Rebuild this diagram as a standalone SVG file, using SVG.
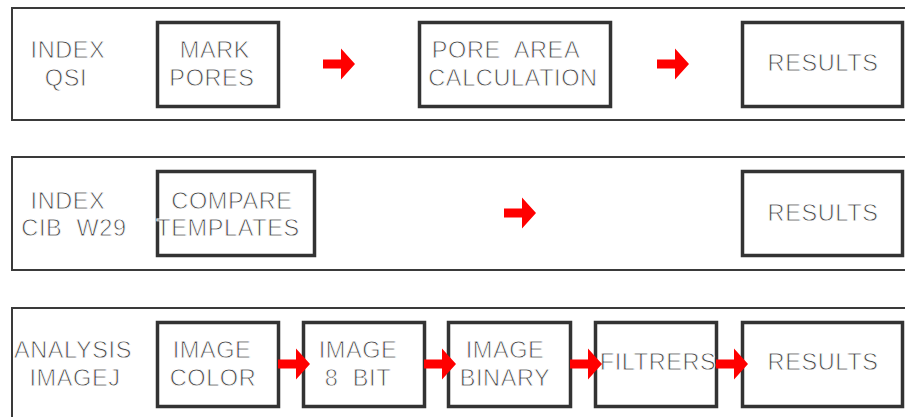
<svg xmlns="http://www.w3.org/2000/svg" xmlns:xlink="http://www.w3.org/1999/xlink" width="905" height="417" viewBox="0 0 905 417">
<defs>
<style>
.panel{fill:#fff;stroke:#3a3a3a;stroke-width:2}
.box{fill:#fff;stroke:#333;stroke-width:3.5}
.t{font-family:"Liberation Sans",Arial,sans-serif;font-size:23.5px;fill:#444;stroke:#fff;stroke-width:0.8px;text-anchor:middle;letter-spacing:0.6px}
.arrow{fill:#ff0000}
</style>
<path id="arr" d="M0,-4.5 H18 V-15.5 L32,0 L18,15.5 V4.5 H0 Z"/>
</defs>
<rect width="905" height="417" fill="#fff"/>
<g id="panel-qsi">
<rect class="panel" x="12" y="8" width="900" height="112"/>
<text class="t" x="68" y="58">INDEX</text>
<text class="t" x="66" y="86">QSI</text>
</g>
<g id="panel-cib">
<rect class="panel" x="12" y="157" width="900" height="113"/>
<text class="t" x="68" y="209">INDEX</text>
<text class="t" x="74" y="236" xml:space="preserve">CIB  W29</text>
</g>
<g id="panel-imagej">
<rect class="panel" x="12" y="308" width="900" height="120"/>
<text class="t" x="73" y="358">ANALYSIS</text>
<text class="t" x="75" y="386">IMAGEJ</text>
</g>
<g id="mark-pores">
<rect class="box" x="157.5" y="22.5" width="121" height="84"/>
<text class="t" x="215" y="58">MARK</text>
<text class="t" x="212" y="86">PORES</text>
</g>
<g id="pore-area">
<rect class="box" x="419.5" y="22.5" width="191" height="84"/>
<text class="t" x="506" y="58" xml:space="preserve">PORE  AREA</text>
<text class="t" x="513" y="86">CALCULATION</text>
</g>
<g id="results-1">
<rect class="box" x="742.5" y="22.5" width="160" height="84"/>
<text class="t" x="823" y="71">RESULTS</text>
</g>
<g id="compare-templates">
<rect class="box" x="157.5" y="171.5" width="157" height="84"/>
<text class="t" x="232" y="209">COMPARE</text>
<text class="t" x="228" y="236">TEMPLATES</text>
</g>
<g id="results-2">
<rect class="box" x="742.5" y="171.5" width="160" height="84"/>
<text class="t" x="823" y="221">RESULTS</text>
</g>
<g id="image-color">
<rect class="box" x="157.5" y="322.5" width="121" height="84"/>
<text class="t" x="212" y="358">IMAGE</text>
<text class="t" x="213" y="386">COLOR</text>
</g>
<g id="image-8bit">
<rect class="box" x="303.5" y="322.5" width="121" height="84"/>
<text class="t" x="358" y="358">IMAGE</text>
<text class="t" x="358" y="386" xml:space="preserve">8  BIT</text>
</g>
<g id="image-binary">
<rect class="box" x="448.5" y="322.5" width="122" height="84"/>
<text class="t" x="505" y="358">IMAGE</text>
<text class="t" x="505" y="386">BINARY</text>
</g>
<g id="filtrers">
<rect class="box" x="595.5" y="322.5" width="121" height="84"/>
<text class="t" x="658" y="370">FILTRERS</text>
</g>
<g id="results-3">
<rect class="box" x="742.5" y="322.5" width="160" height="84"/>
<text class="t" x="823" y="370">RESULTS</text>
</g>
<g id="connectors" class="arrow">
<use xlink:href="#arr" x="323" y="64"/>
<use xlink:href="#arr" x="657" y="64"/>
<use xlink:href="#arr" x="504" y="213"/>
<use xlink:href="#arr" x="278" y="364"/>
<use xlink:href="#arr" x="424" y="364"/>
<use xlink:href="#arr" x="570" y="364"/>
<use xlink:href="#arr" x="716" y="364"/>
</g>
</svg>
